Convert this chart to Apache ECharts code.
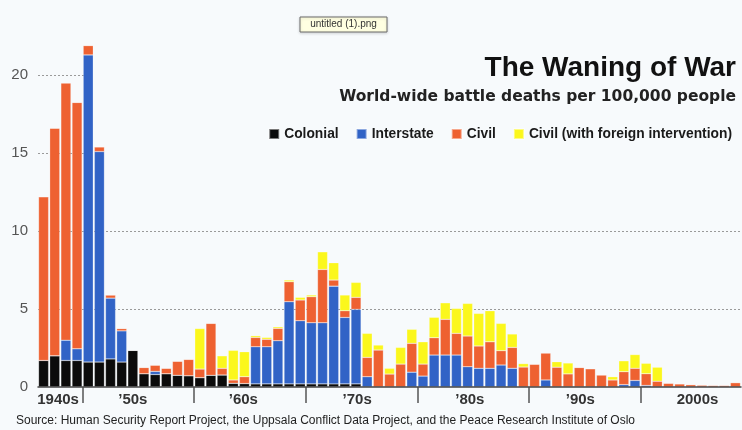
<!DOCTYPE html>
<html>
<head>
<meta charset="utf-8">
<script src="https://cdn.jsdelivr.net/npm/echarts@6/dist/echarts.min.js"></script>
<style>
  html, body { margin: 0; padding: 0; background: #f7fafc; }
  #chart { width: 742px; height: 430px; }
</style>
</head>
<body>
<div id="chart"></div>
<script>
// Battle deaths per 100,000 people, by conflict type, 1946-2008
const years = [];
for (let y = 1946; y <= 2008; y++) years.push(String(y));

const colonial = [
  1.7, 2.0, 1.7, 1.7, 1.6, 1.6, 1.8, 1.6, 2.35, 0.85,
  0.8, 0.85, 0.75, 0.72, 0.6, 0.75, 0.77, 0.24, 0.22, 0.2,
  0.2, 0.2, 0.2, 0.2, 0.2, 0.2, 0.2, 0.2, 0.2, 0,
  0, 0, 0, 0, 0, 0, 0, 0, 0, 0,
  0, 0, 0, 0, 0, 0, 0, 0, 0, 0,
  0, 0, 0, 0, 0, 0, 0, 0, 0, 0,
  0, 0, 0
];
const interstate = [
  0, 0, 1.3, 0.75, 19.7, 13.5, 3.9, 2.0, 0, 0,
  0.2, 0, 0, 0, 0, 0, 0, 0, 0, 2.38,
  2.38, 2.77, 5.27, 4.05, 3.92, 3.92, 6.27, 4.26, 4.78, 0.66,
  0, 0, 0, 0.95, 0.7, 2.05, 2.05, 2.05, 1.3, 1.2,
  1.2, 1.41, 1.2, 0, 0, 0.45, 0, 0, 0, 0,
  0, 0, 0.15, 0.42, 0.1, 0, 0, 0, 0, 0,
  0, 0, 0
];
const civil = [
  10.5, 14.6, 16.5, 15.8, 0.6, 0.3, 0.2, 0.15, 0, 0.4,
  0.4, 0.35, 0.9, 1.05, 0.55, 3.33, 0.43, 0.21, 0.44, 0.6,
  0.48, 0.79, 1.28, 1.33, 1.67, 3.42, 0.39, 0.43, 0.77, 1.24,
  2.37, 0.83, 1.47, 1.85, 0.77, 1.11, 2.29, 1.39, 1.97, 1.43,
  1.7, 0.92, 1.34, 1.28, 1.46, 1.73, 1.27, 0.84, 1.25, 1.17,
  0.77, 0.45, 0.83, 0.78, 0.75, 0.37, 0.24, 0.2, 0.15, 0.12,
  0.1, 0.1, 0.28
];
const civilIntl = [
  0, 0, 0, 0, 0, 0, 0, 0, 0, 0,
  0, 0, 0, 0, 2.6, 0, 0.8, 1.9, 1.6, 0.11,
  0.12, 0.1, 0.11, 0.17, 0.11, 1.13, 1.11, 1.01, 0.96, 1.54,
  0.32, 0.37, 1.07, 0.9, 1.43, 1.31, 1.06, 1.6, 2.09, 2.09,
  1.99, 1.75, 0.86, 0.22, 0, 0, 0.35, 0.7, 0, 0,
  0, 0.21, 0.7, 0.88, 0.67, 0.9, 0, 0, 0, 0,
  0, 0, 0
];

const seriesNames = ['Colonial', 'Interstate', 'Civil', 'Civil (with foreign intervention)'];
const seriesColors = ['#0b0b0b', '#3163c6', '#ee6131', '#fbf71c'];

// Decade ticks sit on the boundaries between year bands; labels sit mid-decade
const decadeBounds = [1949.5, 1959.5, 1969.5, 1979.5, 1989.5, 1999.5];
const decadeLabels = ['1940s', '\u201950s', '\u201960s', '\u201970s', '\u201980s', '\u201990s', '2000s'];
const decadeLabelAt = [1947.3, 1954.0, 1963.9, 1974.1, 1984.2, 1994.1, 2004.6];

const yTicks = [0, 5, 10, 15, 20];

const bg = '#f7fafc';
const chart = echarts.init(document.getElementById('chart'), null, { renderer: 'canvas' });

const allSeries = [colonial, interstate, civil, civilIntl].map((vals, i) => ({
  name: seriesNames[i],
  type: 'bar',
  stack: 'deaths',
  xAxisIndex: 0,
  yAxisIndex: 0,
  data: vals,
  barCategoryGap: '10%',
  itemStyle: { color: seriesColors[i], borderColor: 'rgba(255,255,255,0.45)', borderWidth: 0.5 },
  emphasis: { disabled: true },
  z: 2
}));

chart.setOption({
  animation: false,
  backgroundColor: bg,
  textStyle: { fontFamily: 'Liberation Sans, Arial, sans-serif' },
  legend: {
    data: seriesNames,
    right: 5,
    top: 122,
    icon: 'rect',
    itemWidth: 10,
    itemHeight: 10,
    itemGap: 17,
    selectedMode: false,
    textStyle: { fontFamily: 'Liberation Sans', fontWeight: 'bold', fontSize: 13.8, color: '#1a1a1a' },
    z: 6
  },
  grid: { left: 38, right: 1, top: 44, bottom: 43, containLabel: false },
  xAxis: [
    {
      type: 'category',
      data: years,
      boundaryGap: true,
      axisLine: { show: true, lineStyle: { color: '#444', width: 1.5 } },
      axisTick: { show: false },
      axisLabel: { show: false },
      splitLine: { show: false },
      z: 3
    },
    {
      type: 'value',
      position: 'bottom',
      min: 1945.5,
      max: 2008.5,
      axisLine: { show: false },
      axisTick: {
        show: true,
        customValues: decadeBounds,
        length: 16,
        lineStyle: { color: '#555', width: 1.5 }
      },
      axisLabel: {
        show: true,
        customValues: decadeLabelAt,
        margin: 5,
        fontSize: 15,
        fontWeight: 'bold',
        color: '#333',
        formatter: v => {
          const i = decadeLabelAt.findIndex(p => Math.abs(p - v) < 1e-6);
          return i >= 0 ? decadeLabels[i] : '';
        }
      },
      splitLine: { show: false }
    }
  ],
  yAxis: {
    type: 'value',
    min: 0,
    max: 22,
    interval: 5,
    axisLine: { show: false },
    axisTick: { show: false },
    axisLabel: {
      showMaxLabel: false,
      margin: 10,
      fontSize: 15,
      color: '#555',
      formatter: v => (yTicks.indexOf(v) >= 0 ? String(v) : '')
    },
    splitLine: {
      show: true,
      showMinLine: false,
      showMaxLine: false,
      lineStyle: { color: '#9a9a9a', width: 1, type: [2, 2] }
    }
  },
  series: allSeries,
  graphic: [
    // panel behind the heading block: hides the upper gridlines, stays under the bars
    {
      type: 'rect',
      z: 1,
      shape: { x: 93, y: 40, width: 649, height: 150 },
      style: { fill: bg }
    },
    {
      type: 'text',
      z: 8,
      x: 736,
      y: 68,
      style: { text: 'The Waning of War', fontFamily: 'Liberation Sans', fontWeight: 'bold', fontSize: 28, fill: '#111', align: 'right', verticalAlign: 'middle' }
    },
    {
      type: 'text',
      z: 8,
      x: 736,
      y: 97,
      style: { text: 'World-wide battle deaths per 100,000 people', fontFamily: 'DejaVu Sans', fontWeight: 'bold', fontSize: 15.5, fill: '#222', align: 'right', verticalAlign: 'middle' }
    },
    {
      type: 'rect',
      z: 7,
      shape: { x: 300, y: 17, width: 87, height: 15 },
      style: { fill: '#ffffe1', stroke: '#6b6b6b', lineWidth: 1, shadowColor: 'rgba(0,0,0,0.15)', shadowBlur: 3, shadowOffsetY: 1 }
    },
    {
      type: 'text',
      z: 8,
      x: 343.5,
      y: 24.5,
      style: { text: 'untitled (1).png', fontFamily: 'Liberation Sans', fontSize: 10, fill: '#333', align: 'center', verticalAlign: 'middle' }
    },
    {
      type: 'text',
      z: 8,
      x: 16,
      y: 421,
      style: {
        text: 'Source: Human Security Report Project, the Uppsala Conflict Data Project, and the Peace Research Institute of Oslo',
        fontFamily: 'Liberation Sans',
        fontSize: 12,
        fill: '#222',
        align: 'left',
        verticalAlign: 'middle'
      }
    }
  ]
});
</script>
</body>
</html>
